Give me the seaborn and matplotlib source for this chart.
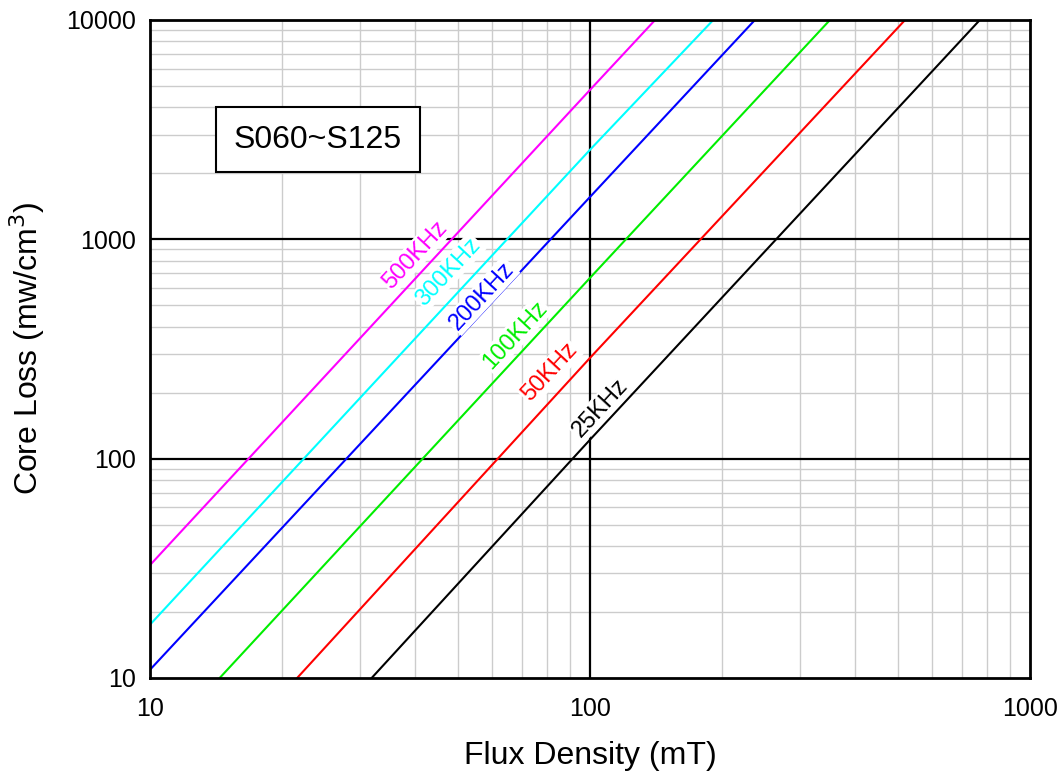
import numpy as np
import pandas as pd
import matplotlib
matplotlib.use("Agg")
import matplotlib.pyplot as plt
import seaborn as sns
from matplotlib.ticker import FixedLocator, NullFormatter, LogLocator

# ---- data ----
frequencies = ["500KHz", "300KHz", "200KHz", "100KHz", "50KHz", "25KHz"]
colors = ["#ff00ff", "#00ffff", "#0000ff", "#00ee00", "#ff0000", "#000000"]
flux_500 = [10.0, 100.0, 140.6]
loss_500 = [32.7, 4800.0, 10000.0]
flux_300 = [10.0, 100.0, 190.6]
loss_300 = [17.5, 2560.0, 10000.0]
flux_200 = [10.0, 100.0, 237.0]
loss_200 = [10.9, 1560.0, 10000.0]
flux_100 = [14.4, 100.0, 351.0]
loss_100 = [10.0, 667.0, 10000.0]
flux_50 = [21.6, 100.0, 520.0]
loss_50 = [10.0, 288.0, 10000.0]
flux_25 = [31.9, 100.0, 769.0]
loss_25 = [10.0, 122.0, 10000.0]
# label anchor positions (flux, loss)
label_flux = [40.0, 47.6, 56.8, 67.5, 81.1, 105.4]
label_loss = [849.0, 710.0, 552.0, 366.0, 248.0, 170.0]
x_ticks = [10, 100, 1000]
y_ticks = [10, 100, 1000, 10000]
box_text = "S060~S125"

flux_all = [flux_500, flux_300, flux_200, flux_100, flux_50, flux_25]
loss_all = [loss_500, loss_300, loss_200, loss_100, loss_50, loss_25]
rows = []
for f, xs, ys in zip(frequencies, flux_all, loss_all):
    for x, y in zip(xs, ys):
        rows.append({"Frequency": f, "Flux": x, "Loss": y})
df = pd.DataFrame(rows)

sns.set_theme(style="white")
plt.rcParams["font.family"] = ["Liberation Sans", "DejaVu Sans"]
plt.rcParams["text.color"] = "black"
plt.rcParams["axes.labelcolor"] = "black"
plt.rcParams["xtick.color"] = "black"
plt.rcParams["ytick.color"] = "black"

fig = plt.figure(figsize=(10.63, 7.8), dpi=100)
ax = fig.add_axes([0.1411, 0.1308, 0.969 - 0.1411, 0.9744 - 0.1308])
ax.set_xscale("log")
ax.set_yscale("log")
ax.set_xlim(10, 1000)
ax.set_ylim(10, 10000)

# grid
ax.xaxis.set_minor_locator(LogLocator(base=10, subs=np.arange(2, 10)))
ax.yaxis.set_minor_locator(LogLocator(base=10, subs=np.arange(2, 10)))
ax.xaxis.set_minor_formatter(NullFormatter())
ax.yaxis.set_minor_formatter(NullFormatter())
ax.grid(True, which="minor", color="#cccccc", linewidth=1.0)
ax.grid(False, which="major")
ax.set_axisbelow(True)
for xv in x_ticks[1:-1]:
    ax.axvline(xv, color="black", linewidth=1.6, zorder=1.5)
for yv in y_ticks[1:-1]:
    ax.axhline(yv, color="black", linewidth=1.6, zorder=1.5)

palette = dict(zip(frequencies, colors))
sns.lineplot(data=df, x="Flux", y="Loss", hue="Frequency", palette=palette,
             linewidth=1.5, legend=False, ax=ax, zorder=3)

ax.set_xlim(10, 1000)
ax.set_ylim(10, 10000)
ax.xaxis.set_major_locator(FixedLocator(x_ticks))
ax.yaxis.set_major_locator(FixedLocator(y_ticks))
ax.set_xticklabels([str(t) for t in x_ticks])
ax.set_yticklabels([str(t) for t in y_ticks])
ax.tick_params(which="both", direction="in", labelsize=18)
ax.tick_params(which="major", length=0, width=1.5, pad=10)
ax.tick_params(which="minor", length=4, width=1.2)
ax.tick_params(axis="x", which="major", pad=14)

for s in ax.spines.values():
    s.set_color("black")
    s.set_linewidth(2)
    s.set_zorder(6)

ax.set_xlabel("Flux Density (mT)", fontsize=23, labelpad=14)
ax.set_ylabel("Core Loss (mw/cm$^3$)", fontsize=23, labelpad=14)

# line labels rotated along lines
fig.canvas.draw()
for f, c, xs, ys, lx, ly in zip(frequencies, colors, flux_all, loss_all, label_flux, label_loss):
    p0 = ax.transData.transform((xs[0], ys[0]))
    p1 = ax.transData.transform((xs[-1], ys[-1]))
    ang = np.degrees(np.arctan2(p1[1] - p0[1], p1[0] - p0[0]))
    ax.text(lx, ly, f, color=c, fontsize=17, rotation=ang, rotation_mode="anchor",
            ha="center", va="center", zorder=4,
            bbox=dict(facecolor="white", edgecolor="none", pad=1.0))

ax.text(0.191, 0.818, box_text, transform=ax.transAxes, fontsize=23,
        ha="center", va="center", zorder=5,
        bbox=dict(facecolor="white", edgecolor="black", linewidth=1.5,
                  boxstyle="square,pad=0.55"))

fig.savefig("out.png", dpi=100)
